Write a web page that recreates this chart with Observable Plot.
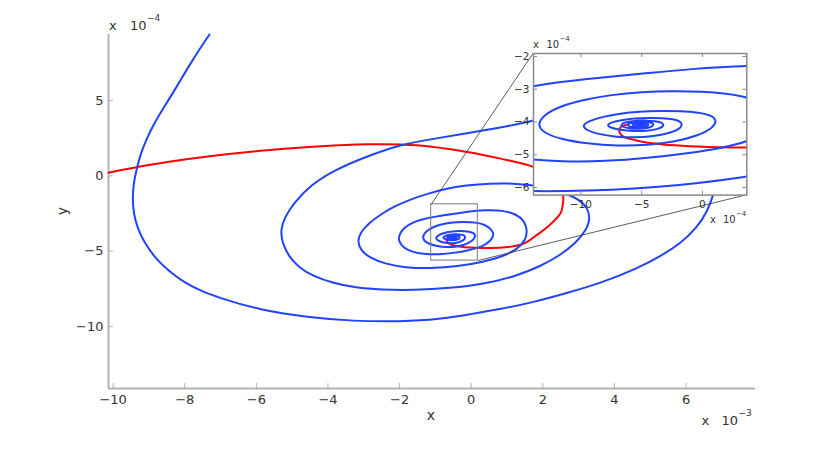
<!DOCTYPE html>
<html><head><meta charset="utf-8">
<script src="https://cdn.jsdelivr.net/npm/d3@7"></script>
<script src="https://cdn.jsdelivr.net/npm/@observablehq/plot@0.6"></script>
<style>
body{margin:0;background:#fff;}
#wrap{position:relative;width:830px;height:459px;overflow:hidden;}
</style></head><body><div id="wrap"></div>
<script>
// ---- data (x in units of 1e-3, y in units of 1e-4) ----
const blueX = [
 // outer turn
 -7.31,-7.59,-7.84,-8.09,-8.34,-8.62,-8.87,-9.06,-9.23,-9.34,-9.43,-9.46,-9.43,-9.32,-9.12,-8.84,-8.48,-8.03,-7.56,-7.09,-5.89,-4.57,-3.29,-1.97,-0.86,-0.02,0.82,1.74,2.66,3.61,4.65,5.34,5.85,6.29,6.60,6.76,6.91,6.88,6.63,6.13,5.43,4.51,3.56,2.63,
 // second turn
 1.74,0.82,-0.13,-1.05,-1.97,-2.92,-3.85,-4.49,-4.96,-5.21,-5.33,-5.27,-5.10,-4.82,-4.41,-3.85,-3.23,-2.53,-1.61,-0.58,0.34,1.24,1.94,2.49,2.91,3.19,3.33,3.25,3.00,2.63,2.22,1.74,
 // third turn
 1.18,0.54,-0.16,-0.72,-1.22,-1.70,-2.14,-2.53,-2.86,-3.09,-3.18,-3.09,-2.84,-2.42,-1.84,-1.14,-0.38,0.34,0.90,1.29,1.52,1.57,1.49,1.27,0.87,
 // fourth turn
 0.37,-0.10,-0.50,-0.95,-1.39,-1.70,-1.90,-2.01,-2.03,-1.95,-1.78,-1.50,-1.15,-0.80,-0.45,-0.10,0.18,0.365,0.52,0.61,0.62,0.55,
 // fifth turn
 0.365,0.20,0.00,-0.25,-0.50,-0.75,-0.98,-1.17,-1.30,-1.36,-1.31,-1.16,-0.95,-0.70,-0.45,-0.22,-0.04,0.08,0.12,0.08,
 // sixth turn
 -0.03,-0.18,-0.35,-0.52,-0.68,-0.82,-0.93,-0.99,-0.96,-0.87,-0.73,-0.56,-0.40,-0.27,-0.19,-0.165,-0.18,
 // inner turns
 -0.24,-0.33,-0.44,-0.56,-0.67,-0.75,-0.786,-0.76,-0.68,-0.57,-0.46,-0.37,-0.325,-0.32,-0.34,
 -0.39,-0.46,-0.54,-0.61,-0.66,-0.672,-0.65,-0.59,-0.52,-0.46,-0.415,-0.40,-0.41,
 -0.45,-0.51,-0.57,-0.61,-0.617,-0.595,-0.55,-0.49,-0.45,-0.44,
 -0.47,-0.52,-0.565,-0.58,-0.56,-0.51,-0.475,-0.47,
 -0.50,-0.54,-0.555,-0.535,-0.50,-0.49,-0.505,-0.53,-0.535,-0.515
];
const blueY = [
 9.37,8.38,7.45,6.46,5.46,4.40,3.41,2.48,1.49,0.50,-0.50,-1.49,-2.48,-3.48,-4.47,-5.40,-6.26,-7.05,-7.62,-8.05,-8.91,-9.37,-9.64,-9.67,-9.50,-9.17,-8.84,-8.38,-7.78,-7.12,-6.13,-5.26,-4.47,-3.48,-2.35,-1.29,0.03,1.36,2.68,3.81,4.54,4.87,4.80,4.34,
 3.61,3.21,2.81,2.45,2.09,1.29,0.36,-0.63,-1.82,-2.75,-3.61,-4.47,-5.33,-6.06,-6.66,-7.12,-7.42,-7.55,-7.58,-7.45,-7.19,-6.66,-5.99,-5.26,-4.47,-3.68,-2.88,-2.09,-1.56,-1.16,-0.83,-0.63,
 -0.50,-0.50,-0.63,-0.86,-1.19,-1.56,-2.02,-2.55,-3.15,-3.74,-4.34,-4.93,-5.43,-5.83,-6.09,-6.13,-6.02,-5.70,-5.33,-4.87,-4.27,-3.61,-3.01,-2.55,-2.28,
 -2.27,-2.38,-2.53,-2.68,-2.88,-3.15,-3.50,-3.90,-4.25,-4.62,-4.93,-5.13,-5.21,-5.20,-5.10,-4.95,-4.78,-4.60,-4.35,-4.05,-3.78,-3.50,
 -3.23,-3.13,-3.07,-3.05,-3.08,-3.17,-3.32,-3.52,-3.77,-4.07,-4.33,-4.53,-4.66,-4.73,-4.71,-4.60,-4.42,-4.20,-3.97,-3.80,
 -3.71,-3.67,-3.66,-3.68,-3.74,-3.84,-3.96,-4.10,-4.24,-4.36,-4.45,-4.48,-4.44,-4.34,-4.22,-4.09,-3.98,
 -3.91,-3.88,-3.87,-3.89,-3.94,-4.01,-4.09,-4.17,-4.24,-4.28,-4.27,-4.22,-4.15,-4.07,-4.01,
 -3.97,-3.955,-3.96,-3.99,-4.04,-4.10,-4.16,-4.20,-4.21,-4.19,-4.14,-4.08,-4.03,
 -4.00,-3.99,-4.01,-4.05,-4.10,-4.15,-4.17,-4.16,-4.12,-4.07,
 -4.03,-4.02,-4.04,-4.09,-4.13,-4.135,-4.11,-4.07,
 -4.045,-4.05,-4.085,-4.115,-4.11,-4.08,-4.06,-4.07,-4.09,-4.095
];
const redX = [-10.13,-8.49,-5.70,-2.91,-1.51,-0.11,0.82,1.75,2.16,2.44,2.57,2.55,2.49,2.13,1.82,1.47,0.96,0.364,-0.041,-0.45,-0.56,-0.657,-0.685,-0.671,-0.616];
const redY = [0.21,0.91,1.69,2.09,2.02,1.58,1.14,0.58,0.03,-0.56,-1.40,-2.02,-2.50,-3.39,-3.94,-4.49,-4.74,-4.78,-4.75,-4.63,-4.55,-4.43,-4.28,-4.15,-4.08];
const xTicks = [-10,-8,-6,-4,-2,0,2,4,6];
const yTicks = [-10,-5,0,5];
const insetXTicks = [-10,-5,0];      // units of 1e-4
const insetYTicks = [-6,-5,-4,-3,-2];
const zoomBoxX = [-1.117, 0.184];
const zoomBoxY = [-5.62, -1.89];

const blue = blueX.map((x,i)=>({x, y: blueY[i]}));
const red = redX.map((x,i)=>({x, y: redY[i]}));

// ---- layout ----
const W = 830, H = 459;
const M = {l:108, r:75, t:34, b:71};
const xDom = [-10.13, 7.94], yDom = [-14.1, 9.37];
const I = {l:532.7, r:746, t:52.7, b:194.3};   // inset frame (px)
const IM = {l:30, r:8, t:8, b:22};
const ixDom = [-13.9, 3.65], iyDom = [-6.23, -1.91];

const AX = "#b3b3b3", TXT = "#333";
const BLUE = "#2143ff", RED = "#ff0000";
const fmt = d => d < 0 ? "\u2212" + Math.abs(d) : String(d);

const sx = Plot.scale({x:{domain:xDom, range:[M.l, W-M.r]}});
const sy = Plot.scale({y:{domain:yDom, range:[H-M.b, M.t]}});
const kx = (xDom[1]-xDom[0])/(W-M.l-M.r), ky = (yDom[1]-yDom[0])/(H-M.t-M.b);
const links = [
  {x1: zoomBoxX[0], y1: zoomBoxY[1], x2: sx.invert(I.l), y2: sy.invert(I.t)},
  {x1: zoomBoxX[1], y1: zoomBoxY[0], x2: sx.invert(I.r), y2: sy.invert(I.b)}
];

const main = Plot.plot({
  width: W, height: H,
  marginLeft: M.l, marginRight: M.r, marginTop: M.t, marginBottom: M.b,
  x: {domain: xDom, label: null},
  y: {domain: yDom, label: null},
  style: {fontFamily: "DejaVu Sans", fontSize: "13px", background: "transparent", overflow: "visible"},
  marks: [
    Plot.ruleX([xDom[0]], {stroke: AX, strokeWidth: 2}),
    Plot.ruleY([yDom[0]], {stroke: AX, strokeWidth: 2}),
    Plot.ruleX(xTicks, {x: d=>d, y1: yDom[0], y2: yDom[0] + 5*ky, stroke: AX}),
    Plot.ruleY(yTicks, {y: d=>d, x1: xDom[0], x2: xDom[0] + 5*kx, stroke: AX}),
    Plot.axisX(xTicks, {anchor: "bottom", tickSize: 0, tickPadding: 6, fontSize: 13, fill: TXT, tickFormat: fmt, label: null}),
    Plot.axisY(yTicks, {anchor: "left", tickSize: 0, tickPadding: 5, fontSize: 13, fill: TXT, tickFormat: fmt, label: null}),
    Plot.line(red, {x: "x", y: "y", stroke: RED, strokeWidth: 2, curve: "catmull-rom"}),
    Plot.line(blue, {x: "x", y: "y", stroke: BLUE, strokeWidth: 2, curve: "basis"}),
    Plot.rect([0], {x1: zoomBoxX[0], x2: zoomBoxX[1], y1: zoomBoxY[0], y2: zoomBoxY[1], fill: "none", stroke: "#7a7a7a", strokeWidth: 1}),
    Plot.link(links, {x1: "x1", y1: "y1", x2: "x2", y2: "y2", stroke: "#333", strokeWidth: 0.8})
  ]
});
main.style.position = "absolute"; main.style.left = "0px"; main.style.top = "0px";

const ikx = (ixDom[1]-ixDom[0])/(I.r-I.l), iky = (iyDom[1]-iyDom[0])/(I.b-I.t);
const inset = Plot.plot({
  width: (I.r-I.l)+IM.l+IM.r, height: (I.b-I.t)+IM.t+IM.b,
  marginLeft: IM.l, marginRight: IM.r, marginTop: IM.t, marginBottom: IM.b,
  x: {domain: ixDom, label: null},
  y: {domain: iyDom, label: null},
  style: {fontFamily: "DejaVu Sans", fontSize: "10.5px", background: "transparent", overflow: "visible"},
  marks: [
    Plot.frame({fill: "white", stroke: null}),
    Plot.line(red, {x: d=>d.x*10, y: "y", stroke: RED, strokeWidth: 2, curve: "catmull-rom", clip: true}),
    Plot.line(blue, {x: d=>d.x*10, y: "y", stroke: BLUE, strokeWidth: 2, curve: "basis", clip: true}),
    Plot.ruleX(insetXTicks, {x: d=>d, y1: iyDom[0], y2: iyDom[0] + 4*iky, stroke: "#8a8a8a"}),
    Plot.ruleX(insetXTicks, {x: d=>d, y1: iyDom[1], y2: iyDom[1] - 4*iky, stroke: "#8a8a8a"}),
    Plot.ruleY(insetYTicks, {y: d=>d, x1: ixDom[0], x2: ixDom[0] + 4*ikx, stroke: "#8a8a8a"}),
    Plot.ruleY(insetYTicks, {y: d=>d, x1: ixDom[1], x2: ixDom[1] - 4*ikx, stroke: "#8a8a8a"}),
    Plot.frame({stroke: "#8a8a8a", strokeWidth: 1.5}),
    Plot.axisX(insetXTicks, {anchor: "bottom", tickSize: 0, tickPadding: 5, fontSize: 10.5, fill: TXT, tickFormat: fmt, label: null}),
    Plot.axisY(insetYTicks, {anchor: "left", tickSize: 0, tickPadding: 4, fontSize: 10.5, fill: TXT, tickFormat: fmt, label: null})
  ]
});
inset.style.position = "absolute";
inset.style.left = (I.l - IM.l) + "px";
inset.style.top = (I.t - IM.t) + "px";

const wrap = document.getElementById("wrap");
wrap.appendChild(main);
wrap.appendChild(inset);

// ---- annotations (exponent labels, axis labels) ----
const g = d3.select(main).append("g").attr("fill", TXT).attr("font-family", "DejaVu Sans");
function label(x, y, t, size, anchor="start") {
  return g.append("text").attr("x", x).attr("y", y).attr("font-size", size).attr("text-anchor", anchor).text(t);
}
function expo(x, y, ex, size, esize, gap) {
  label(x, y, "x", size);
  label(x + gap, y, "10", size);
  label(x + gap + size*1.3, y - size*0.7, ex, esize);
}
expo(109, 30, "\u22124", 13, 9, 21);
expo(701.5, 425, "\u22123", 13, 9, 20);
expo(533, 48.3, "\u22124", 10, 7, 13.5);
expo(710, 223, "\u22124", 10, 7, 13);
label(431, 420, "x", 14, "middle");
g.append("text").attr("transform", "translate(67,211) rotate(-90)").attr("font-size", 14).attr("text-anchor", "middle").text("y");
</script></body></html>
